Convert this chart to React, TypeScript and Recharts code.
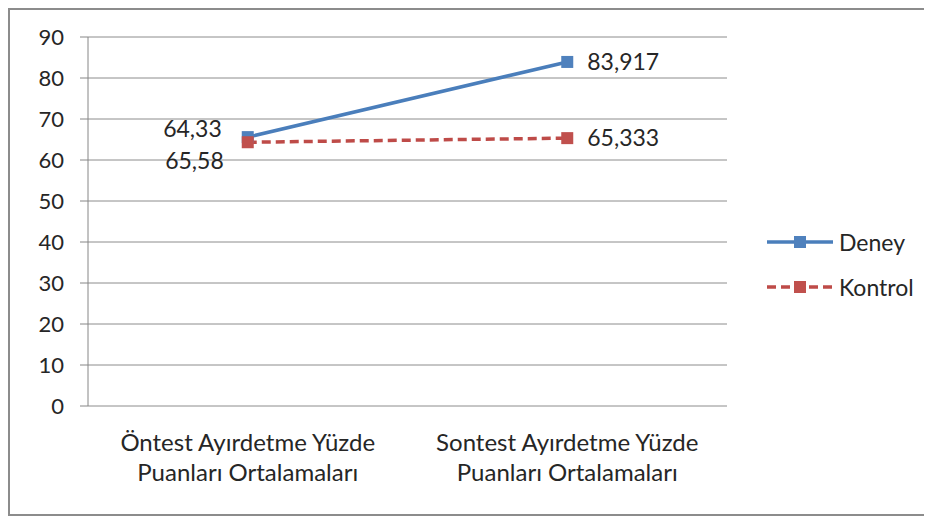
import { LineChart, Line, XAxis, YAxis, CartesianGrid, Legend, LabelList } from 'recharts';

const categories = [
  ['Öntest Ayırdetme Yüzde', 'Puanları Ortalamaları'],
  ['Sontest Ayırdetme Yüzde', 'Puanları Ortalamaları'],
];
const deney = [65.58, 83.917];
const kontrol = [64.33, 65.333];
const yTicks = [0, 10, 20, 30, 40, 50, 60, 70, 80, 90];

const FONT = 'Lato, "Open Sans", sans-serif';
const TEXT = '#262626';
const AXIS = '#868686';
const BLUE = '#4A7EBB';
const BLUE_MARK = '#4F81BD';
const RED = '#BE4B48';
const RED_MARK = '#C0504D';

const data = categories.map((c, i) => ({
  pos: i + 0.5,
  deney: deney[i],
  kontrol: kontrol[i],
}));

const fmt = (v: number) => String(v).replace('.', ',');

// where each data label sits relative to its point (Excel moved the left ones apart)
const deneyLabelPos = [
  { dx: -24, dy: 24, anchor: 'end' },
  { dx: 20, dy: 0, anchor: 'start' },
];
const kontrolLabelPos = [
  { dx: -26, dy: -13, anchor: 'end' },
  { dx: 20, dy: 0, anchor: 'start' },
];

const makeLabel = (pos: typeof deneyLabelPos) => (props: any) => {
  const { x, y, value, index } = props;
  const p = pos[index];
  return (
    <text
      x={x + p.dx}
      y={y + p.dy}
      dy="0.35em"
      textAnchor={p.anchor}
      fontSize={23}
      fontFamily={FONT}
      fill={TEXT}
    >
      {fmt(value)}
    </text>
  );
};

const squareDot = (color: string) => (props: any) => {
  const { cx, cy, index } = props;
  return <rect key={index} x={cx - 6} y={cy - 6} width={12} height={12} fill={color} />;
};

const CategoryTick = (props: any) => {
  const { x, y, payload } = props;
  const lines = categories[Math.floor(payload.value)] || [];
  return (
    <text x={x} y={y} textAnchor="middle" fontSize={24} fontFamily={FONT} fill={TEXT}>
      {lines.map((l, i) => (
        <tspan key={i} x={x} dy={i === 0 ? 37 : 30}>
          {l}
        </tspan>
      ))}
    </text>
  );
};

const legendItems = [
  { name: 'Deney', color: BLUE, mark: BLUE_MARK, dash: undefined },
  { name: 'Kontrol', color: RED, mark: RED_MARK, dash: '9 5' },
];

const LegendContent = () => (
  <div style={{ fontFamily: FONT, fontSize: 23, color: TEXT }}>
    {legendItems.map((it) => (
      <div key={it.name} style={{ display: 'flex', alignItems: 'center', height: 45 }}>
        <svg width={72} height={20}>
          <line x1={2} y1={10} x2={68} y2={10} stroke={it.color} strokeWidth={3.5} strokeDasharray={it.dash} />
          <rect x={29} y={4} width={12} height={12} fill={it.mark} />
        </svg>
        <span style={{ marginLeft: 2 }}>{it.name}</span>
      </div>
    ))}
  </div>
);

export default function App() {
  return (
    <div
      style={{
        width: 922,
        height: 508,
        border: '2px solid #8c8c8c',
        boxSizing: 'border-box',
        background: '#fff',
      }}
    >
      <LineChart width={918} height={504} data={data} margin={{ top: 27, right: 201, bottom: 0, left: 0 }}>
        <CartesianGrid xAxisId="cat" vertical={false} stroke="#8c8c8c" />
        <XAxis
          xAxisId="frame"
          type="number"
          domain={[0, categories.length]}
          ticks={[0, 1, 2]}
          tick={false}
          tickSize={8}
          stroke={AXIS}
          height={0}
        />
        <XAxis
          xAxisId="cat"
          type="number"
          dataKey="pos"
          domain={[0, categories.length]}
          ticks={data.map((d) => d.pos)}
          tickLine={false}
          axisLine={false}
          tick={<CategoryTick />}
          height={108}
        />
        <YAxis
          domain={[0, 90]}
          ticks={yTicks}
          width={78}
          tickSize={8}
          tickMargin={16}
          stroke={AXIS}
          tick={{ fill: TEXT, fontSize: 22, fontFamily: FONT }}
        />
        <Legend
          layout="vertical"
          align="center"
          verticalAlign="middle"
          content={<LegendContent />}
          wrapperStyle={{ left: 755, top: 209, width: 170 }}
        />
        <Line
          xAxisId="cat"
          dataKey="deney"
          name="Deney"
          stroke={BLUE}
          strokeWidth={3.5}
          dot={squareDot(BLUE_MARK)}
          isAnimationActive={false}
        >
          <LabelList dataKey="deney" content={makeLabel(deneyLabelPos)} />
        </Line>
        <Line
          xAxisId="cat"
          dataKey="kontrol"
          name="Kontrol"
          stroke={RED}
          strokeWidth={3.5}
          strokeDasharray="9 5"
          dot={squareDot(RED_MARK)}
          isAnimationActive={false}
        >
          <LabelList dataKey="kontrol" content={makeLabel(kontrolLabelPos)} />
        </Line>
      </LineChart>
    </div>
  );
}
